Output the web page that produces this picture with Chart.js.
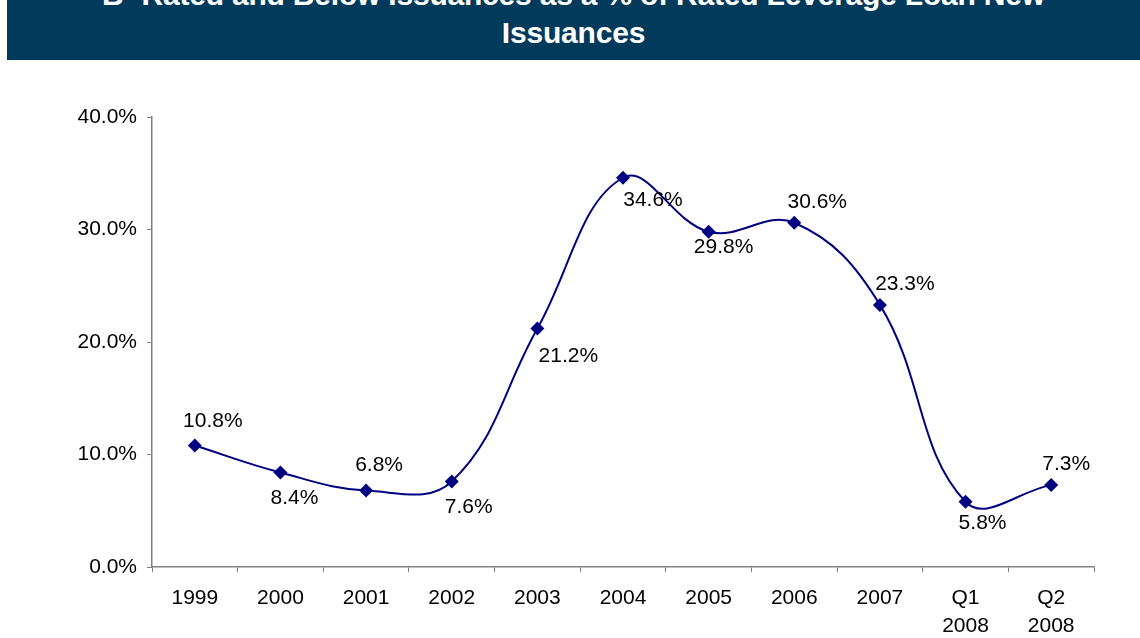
<!DOCTYPE html>
<html>
<head>
<meta charset="utf-8">
<title>B- Rated and Below Issuances</title>
<script src="https://cdn.jsdelivr.net/npm/chart.js@4"></script>
<style>
  html, body { margin: 0; padding: 0; background: #fff; }
  body { width: 1140px; height: 638px; position: relative; overflow: hidden; font-family: "Liberation Sans", Arial, sans-serif; }
  #banner {
    position: absolute; left: 7px; top: 0; width: 1133px; height: 60px;
    background: #023a5b; overflow: hidden;
  }
  #banner .t {
    position: absolute; left: 0; width: 100%; text-align: center;
    color: #fff; font-weight: bold; font-size: 30px; line-height: 38px;
    top: -24px; letter-spacing: -0.2px;
  }
  #wrap { position: absolute; left: 0; top: 0; width: 1140px; height: 638px; }
</style>
</head>
<body>
<div id="wrap"><canvas id="myChart" width="1140" height="638"></canvas></div>
<div id="banner"><div class="t">B- Rated and Below Issuances as a % of Rated Leverage Loan New<br>Issuances</div></div>

<script>
// periods on the x axis
const periods = [["1999"], ["2000"], ["2001"], ["2002"], ["2003"], ["2004"], ["2005"], ["2006"], ["2007"], ["Q1", "2008"], ["Q2", "2008"]];
// share of B- and below, percent
const shareValues = [10.8, 8.4, 6.8, 7.6, 21.2, 34.6, 29.8, 30.6, 23.3, 5.8, 7.3];
const yTicks = [0, 10, 20, 30, 40];

// where each value label sits relative to its point
const labelOffsets = [[18, -24], [14, 26], [13, -25], [17, 26], [31, 28], [30, 22], [15, 15], [23, -21], [25, -21], [17, 21], [15, -21]];

document.addEventListener("DOMContentLoaded", function () {
  const canvas = document.getElementById("myChart");
  const ctx = canvas.getContext("2d");

  const valueLabels = {
    id: "valueLabels",
    afterDatasetsDraw(chart) {
      const c = chart.ctx;
      const meta = chart.getDatasetMeta(0);
      c.save();
      c.font = "21px 'Liberation Sans', Arial, sans-serif";
      c.fillStyle = "#000";
      c.textAlign = "center";
      c.textBaseline = "middle";
      meta.data.forEach((pt, i) => {
        const off = labelOffsets[i];
        c.fillText(shareValues[i].toFixed(1) + "%", pt.x + off[0], pt.y + off[1]);
      });
      c.restore();
    },
  };

  new Chart(ctx, {
    type: "line",
    data: {
      labels: periods,
      datasets: [{
        data: shareValues,
        borderColor: "#000080",
        backgroundColor: "#000080",
        borderWidth: 2,
        tension: 0.4,
        pointStyle: "rectRot",
        pointRadius: 7,
        pointHoverRadius: 7,
        pointBorderWidth: 0,
      }],
    },
    options: {
      responsive: false,
      animation: false,
      layout: { padding: { left: 0, top: 117, right: 46, bottom: 0 } },
      plugins: {
        legend: { display: false },
        tooltip: { enabled: false },
        title: { display: false },
      },
      scales: {
        x: {
          offset: true,
          afterFit(scale) { scale.height = 71; },
          grid: {
            offset: true,
            drawOnChartArea: false,
            drawTicks: true,
            tickLength: 5,
            color: "#808080",
          },
          border: { color: "#808080", width: 1.5 },
          ticks: {
            color: "#000",
            padding: 13,
            maxRotation: 0,
            font: { family: "'Liberation Sans', Arial, sans-serif", size: 21, lineHeight: 1.3 },
          },
        },
        y: {
          min: 0,
          max: 40,
          afterFit(scale) { scale.width = 152; },
          afterBuildTicks(scale) { scale.ticks = yTicks.map(v => ({ value: v })); },
          grid: {
            drawOnChartArea: false,
            drawTicks: true,
            tickLength: 5,
            color: "#808080",
          },
          border: { color: "#808080", width: 1.5 },
          ticks: {
            color: "#000",
            padding: 10,
            callback: v => v.toFixed(1) + "%",
            font: { family: "'Liberation Sans', Arial, sans-serif", size: 21 },
          },
        },
      },
    },
    plugins: [valueLabels],
  });
});
</script>
</body>
</html>
